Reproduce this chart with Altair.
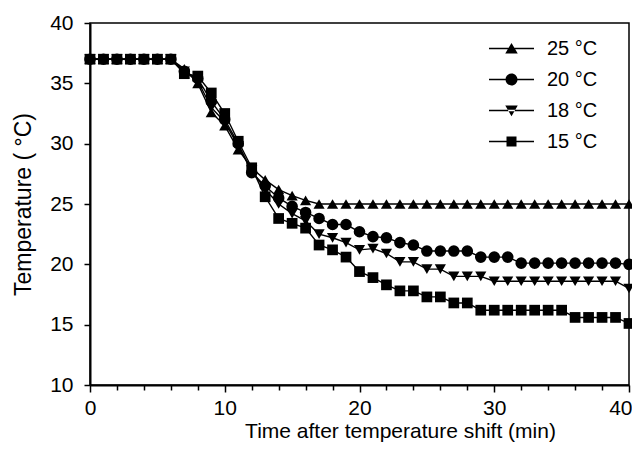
import altair as alt
import pandas as pd

times = list(range(41))
series_names = ["25 °C", "20 °C", "18 °C", "15 °C"]
s25 = [37]*7 + [36.2, 35.0, 32.6, 31.5, 29.5, 28.0, 27.0, 26.2, 25.7, 25.3] + [25.0]*24
s20 = [37]*7 + [36.0, 35.4, 33.5, 32.0, 30.0, 27.6, 26.5, 25.5, 24.8, 24.3, 23.8, 23.3, 23.3,
                22.7, 22.3, 22.2, 21.8, 21.6, 21.1, 21.1, 21.1, 21.1, 20.6, 20.6, 20.6] + [20.1]*8 + [20.0]
s18 = [37]*7 + [36.0, 35.2, 33.0, 31.8, 29.8, 27.8, 26.2, 25.0, 24.2, 23.6, 22.5, 22.2, 21.8,
                21.2, 21.3, 20.9, 20.2, 20.2, 19.6, 19.6, 19.0, 19.0, 19.0] + [18.6]*10 + [18.0]
s15 = [37]*7 + [35.8, 35.6, 34.2, 32.5, 30.2, 28.0, 25.6, 23.8, 23.4, 23.0, 21.6, 21.2, 20.6,
                19.4, 18.9, 18.3, 17.8, 17.8, 17.3, 17.3, 16.8, 16.8] + [16.2]*7 + [15.6]*4 + [15.1]

x_ticks = list(range(0, 41, 2))
y_ticks = [10, 15, 20, 25, 30, 35, 40]

rows = []
for name, vals in zip(series_names, [s25, s20, s18, s15]):
    for t, v in zip(times, vals):
        rows.append({"t": t, "T": v, "series": name})
df = pd.DataFrame(rows)

marker_shapes = ["triangle-up", "circle", "triangle-down", "square"]
marker_sizes = [125, 135, 125, 115]
LINE = "M-1.8,-0.06H1.8V0.06H-1.8Z"
legend_shapes = [
    LINE + "M0,-0.45L0.5,0.4L-0.5,0.4Z",
    LINE + "M0.48,0A0.48,0.48,0,1,1,-0.48,0A0.48,0.48,0,1,1,0.48,0Z",
    LINE + "M0,0.45L0.5,-0.4L-0.5,-0.4Z",
    LINE + "M-0.4,-0.4H0.4V0.4H-0.4Z",
]

FONT = "Liberation Sans"

x_enc = alt.X("t:Q", scale=alt.Scale(domain=[0, 40], nice=False),
              axis=alt.Axis(values=x_ticks, title="Time after temperature shift (min)",
                            labelExpr="datum.value % 10 == 0 ? datum.label : ''",
                            labelAlign={"condition": {"test": "datum.value == 40", "value": "right"},
                                        "value": "center"},
                            labelOffset={"condition": {"test": "datum.value == 40", "value": 3},
                                         "value": 0},
                            tickSize={"condition": {"test": "datum.value % 10 == 0", "value": 7},
                                      "value": 5},
                            labelPadding=5, titlePadding=2, labelFlush=False,
                            titleFontSize=21, titleX=310, titleAnchor="middle"))
y_enc = alt.Y("T:Q", scale=alt.Scale(domain=[10, 40], nice=False, zero=False),
              axis=alt.Axis(values=y_ticks, title="Temperature ( °C)", tickSize=6,
                            labelPadding=11, titlePadding=14, labelFlush=False))

base = alt.Chart(df).encode(x=x_enc, y=y_enc)

lines = base.mark_line(color="black", strokeWidth=1.4).encode(detail="series:N")

point_layers = []
for name, shp, sz in zip(series_names, marker_shapes, marker_sizes):
    point_layers.append(
        base.transform_filter(alt.datum.series == name)
        .mark_point(filled=True, color="black", size=sz, opacity=1, shape=shp)
    )

legend_layer = alt.Chart(df).transform_filter("false").mark_point(
    filled=True, color="black", size=625, opacity=1
).encode(
    x=x_enc, y=y_enc,
    shape=alt.Shape("series:N", scale=alt.Scale(domain=series_names, range=legend_shapes),
                    legend=alt.Legend(title=None, orient="none", legendX=408, legendY=12,
                                      padding=0, rowPadding=7, labelOffset=22,
                                      labelFontSize=20, labelFont=FONT, labelColor="black",
                                      symbolFillColor="black", symbolSize=625))
)

chart = alt.layer(lines, *point_layers, legend_layer).properties(
    width=539, height=362,
    autosize=alt.AutoSizeParams(type="none"),
    padding={"left": 82, "top": 15, "right": 3, "bottom": 57},
).configure_view(stroke="black", strokeWidth=1.5).configure_axis(
    grid=False, domainColor="black", domainWidth=2, tickColor="black", tickWidth=1.5,
    labelFont=FONT, labelFontSize=21, labelColor="black",
    titleFont=FONT, titleFontSize=23, titleFontWeight="normal", titleColor="black",
)

chart.save("out.html", embed_options={"renderer": "svg", "actions": False})
